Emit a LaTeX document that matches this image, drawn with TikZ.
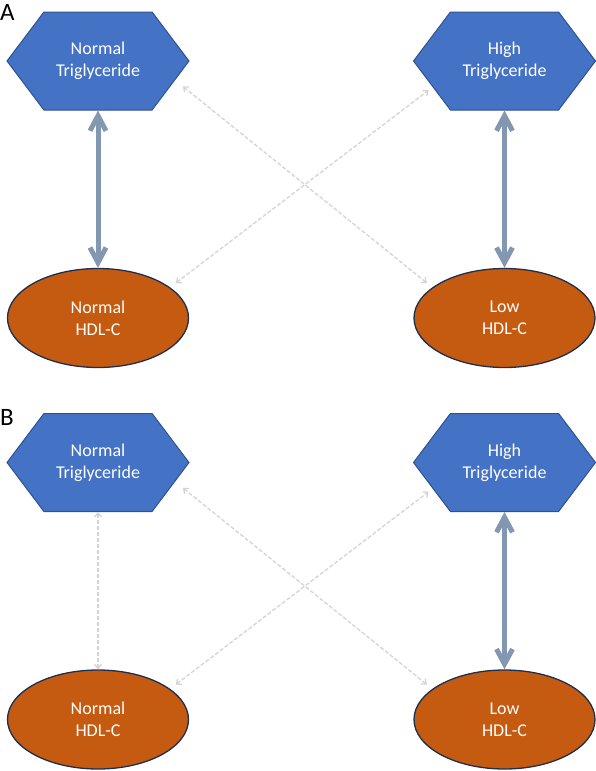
\documentclass[tikz,border=0pt]{standalone}
\usepackage{fontspec}
\setmainfont{Carlito}
\usetikzlibrary{shapes.symbols,shapes.geometric,arrows.meta}
\definecolor{tgblue}{HTML}{4472C4}
\definecolor{tgedge}{HTML}{2F528F}
\definecolor{hdlorange}{HTML}{C55A11}
\definecolor{hdledge}{HTML}{1F2D4E}
\definecolor{strongarrowcol}{HTML}{8497B0}
\definecolor{weakarrowcol}{HTML}{D4D4D4}
\begin{document}
\begin{tikzpicture}[x=1pt,y=-1pt,
  tgnode/.style={signal, signal to=west and east, signal pointer angle=106,
    minimum width=182pt, minimum height=98pt, inner sep=0pt,
    fill=tgblue, draw=tgedge, line width=1pt, text=white, align=center,
    font=\fontsize{18}{22}\selectfont},
  hdlnode/.style={ellipse, minimum width=181pt, minimum height=99pt, inner sep=0pt,
    fill=hdlorange, draw=hdledge, line width=1.3pt, text=white, align=center,
    font=\fontsize{18}{22}\selectfont},
  strongarrow/.style={draw=strongarrowcol, line width=5pt,
    {Straight Barb[length=15pt,width=16pt]}-{Straight Barb[length=15pt,width=16pt]}},
  weakarrow/.style={draw=weakarrowcol, line width=1.3pt, dash pattern=on 4pt off 2pt,
    {Straight Barb[length=4pt,width=7pt]}-{Straight Barb[length=4pt,width=7pt]}},
  panellabel/.style={font=\fontsize{25}{30}\selectfont, inner sep=0pt, anchor=west}]
\useasboundingbox (0,0) rectangle (596,771);
% Panel A
\node[panellabel] (labA) at (0,12) {A};
\node[tgnode] (ntgA) at (98,61) {Normal\\Triglyceride};
\node[tgnode] (htgA) at (504.5,61) {High\\Triglyceride};
\node[hdlnode] (nhdlA) at (98,318) {Normal\\HDL-C};
\node[hdlnode] (lhdlA) at (504.5,318) {Low\\HDL-C};
\draw[weakarrow, shorten <=10pt, shorten >=7pt] (ntgA.-14) -- (lhdlA.157);
\draw[weakarrow, shorten <=7pt, shorten >=5pt] (nhdlA.23) -- (htgA.200);
\draw[strongarrow] (ntgA.south) -- (nhdlA.north);
\draw[strongarrow] (htgA.south) -- (lhdlA.north);
% Panel B
\node[panellabel] (labB) at (0,417) {B};
\node[tgnode] (ntgB) at (98,462.5) {Normal\\Triglyceride};
\node[tgnode] (htgB) at (504.5,462.5) {High\\Triglyceride};
\node[hdlnode] (nhdlB) at (98,719.5) {Normal\\HDL-C};
\node[hdlnode] (lhdlB) at (504.5,719.5) {Low\\HDL-C};
\draw[weakarrow, shorten <=10pt, shorten >=7pt] (ntgB.-14) -- (lhdlB.157);
\draw[weakarrow, shorten <=7pt, shorten >=5pt] (nhdlB.23) -- (htgB.200);
\draw[weakarrow] (ntgB.south) -- (nhdlB.north);
\draw[strongarrow] (htgB.south) -- (lhdlB.north);
\end{tikzpicture}
\end{document}
